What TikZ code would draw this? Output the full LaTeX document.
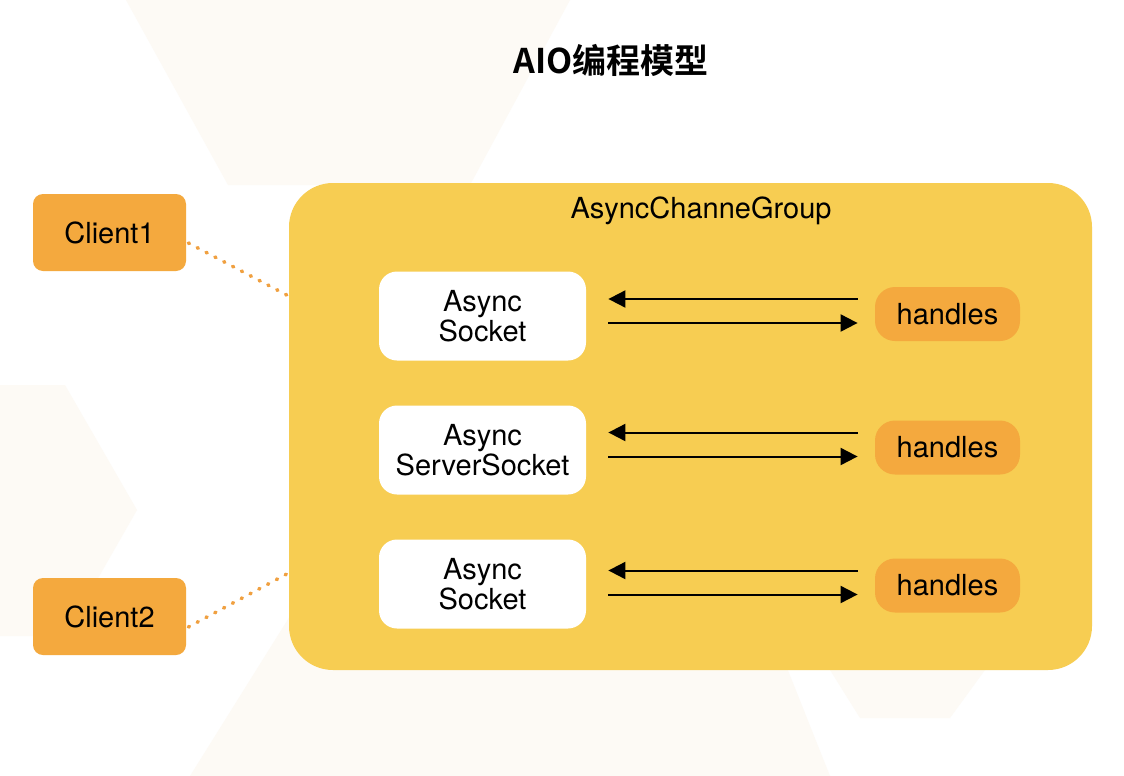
\documentclass[tikz,border=0pt]{standalone}
\usepackage{fontspec}
\setmainfont{TeX Gyre Heros}
\newfontfamily\cjk{Noto Sans CJK SC}[BoldFont={Noto Sans CJK SC Bold}]
\usetikzlibrary{arrows.meta,calc}

\definecolor{groupyellow}{HTML}{F7CD52}
\definecolor{clientorange}{HTML}{F4A93E}
\definecolor{dotorange}{HTML}{F0A040}
\definecolor{hexshade}{HTML}{FDFAF5}

\tikzset{
  label font/.style={font=\fontsize{14.5}{15}\selectfont},
  client/.style={label font, fill=clientorange, rounded corners=5pt,
    minimum width=76.5pt, minimum height=38.5pt, inner sep=0pt},
  group/.style={fill=groupyellow, rounded corners=22pt,
    minimum width=401.5pt, minimum height=243.5pt, inner sep=0pt},
  socket/.style={label font, fill=white, rounded corners=9pt, align=center,
    minimum width=103.5pt, minimum height=44.5pt, inner sep=0pt},
  handler/.style={label font, fill=clientorange, rounded corners=10pt,
    minimum width=72.5pt, minimum height=27pt, inner sep=0pt},
  flow/.style={line width=1pt, -{Triangle[length=8.5pt,width=8.5pt]}},
  link/.style={dotorange, line width=1.8pt, line cap=round,
    dash pattern=on 0.6pt off 4.4pt}
}

\begin{document}
\begin{tikzpicture}[x=0.5pt, y=-0.5pt]
\useasboundingbox ( 0, 0 ) rectangle ( 1124, 776 );

% Background
\fill [white] ( 0, 0 ) rectangle ( 1124, 776 );
\fill [hexshade] ( 126, 0 ) -- ( 228, 185 ) -- ( 470, 185 ) -- ( 570, 0 ) -- cycle;
\fill [hexshade] ( 0, 385 ) -- ( 65, 385 ) -- ( 137, 510 ) -- ( 65, 636 ) -- ( 0, 636 ) -- cycle;
\fill [hexshade] ( 190, 776 ) -- ( 300, 600 ) -- ( 760, 600 ) -- ( 830, 776 ) -- cycle;
\fill [hexshade] ( 830, 670 ) -- ( 860, 718 ) -- ( 950, 718 ) -- ( 985, 670 ) -- cycle;

% Title
\node (title) at ( 611, 60 ) {\cjk\bfseries\fontsize{17}{17}\selectfont AIO编程模型};

% Channel group
\node [group] (grp) at ( 690.5, 426.5 ) {};
\node [label font] (grplabel) at ( 701, 211 ) {AsyncChanneGroup};

% Clients
\node [client] (c1) at ( 109.5, 232.5 ) {Client1};
\node [client] (c2) at ( 109.5, 616.5 ) {Client2};

% Sockets
\node [socket] (s1) at ( 482.5, 316 ) {Async\\Socket};
\node [socket] (s2) at ( 482.5, 450 ) {Async\\ServerSocket};
\node [socket] (s3) at ( 482.5, 584 ) {Async\\Socket};

% Handlers
\node [handler] (h1) at ( 947.5, 314 ) {handles};
\node [handler] (h2) at ( 947.5, 447.5 ) {handles};
\node [handler] (h3) at ( 947.5, 585.5 ) {handles};

% Client links
\draw [link] ( $ (c1.east) + (1pt,-5.25pt) $ ) -- ( $ (grp.west) + (0,65.25pt) $ );
\draw [link] ( $ (c2.east) + (1pt,-5.25pt) $ ) -- ( $ (grp.west) + (0,-73.25pt) $ );

% Socket <-> handles
\path [flow] ( $ (h1.west) + (-8.5pt,7.5pt) $ ) edge [shorten >=11pt] ( $ (h1.west -| s1.east) + (0,7.5pt) $ );
\path [flow] ( $ (h1.west -| s1.east) + (11pt,-4.5pt) $ ) edge [shorten >=8.5pt] ( $ (h1.west) + (0,-4.5pt) $ );

\path [flow] ( $ (h2.west) + (-8.5pt,7.5pt) $ ) edge [shorten >=11pt] ( $ (h2.west -| s2.east) + (0,7.5pt) $ );
\path [flow] ( $ (h2.west -| s2.east) + (11pt,-4.5pt) $ ) edge [shorten >=8.5pt] ( $ (h2.west) + (0,-4.5pt) $ );

\path [flow] ( $ (h3.west) + (-8.5pt,7.5pt) $ ) edge [shorten >=11pt] ( $ (h3.west -| s3.east) + (0,7.5pt) $ );
\path [flow] ( $ (h3.west -| s3.east) + (11pt,-4.5pt) $ ) edge [shorten >=8.5pt] ( $ (h3.west) + (0,-4.5pt) $ );

\end{tikzpicture}
\end{document}
